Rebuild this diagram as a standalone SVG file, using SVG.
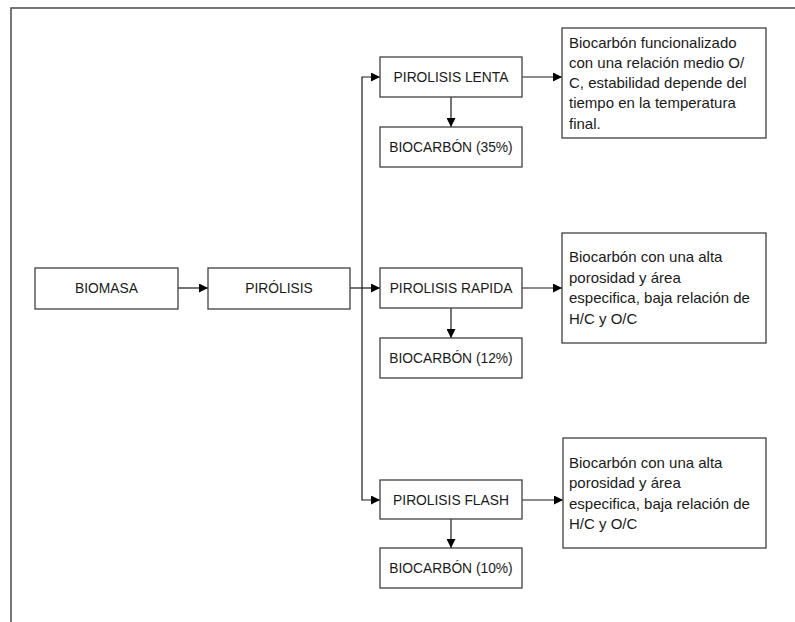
<svg xmlns="http://www.w3.org/2000/svg" width="795" height="622" viewBox="0 0 795 622">
<defs>
<marker id="ah" viewBox="0 0 10 10" refX="10" refY="5" markerWidth="9" markerHeight="9" markerUnits="userSpaceOnUse" orient="auto"><path d="M0,0 L10,5 L0,10 z" fill="#000"/></marker>
<style>
.box{fill:#fff;stroke:#404040;stroke-width:1.3}
.t{font-family:"Liberation Sans",Arial,sans-serif;font-size:13.8px;fill:#1a1a1a}
.d{font-size:15px}
.c{text-anchor:middle}
.ln{fill:none;stroke:#1a1a1a;stroke-width:1.2}
</style>
</defs>
<rect x="0" y="0" width="795" height="622" fill="#fff"/>
<rect x="11" y="8" width="800" height="640" fill="none" stroke="#555" stroke-width="1.6"/>
<g id="connectors">
<line class="ln" x1="178" y1="288" x2="208" y2="288" marker-end="url(#ah)"/>
<line class="ln" x1="350" y1="288" x2="380" y2="288" marker-end="url(#ah)"/>
<polyline class="ln" points="362,288 362,77 380,77" marker-end="url(#ah)"/>
<polyline class="ln" points="362,288 362,500 380,500" marker-end="url(#ah)"/>
<line class="ln" x1="451" y1="97" x2="451" y2="127" marker-end="url(#ah)"/>
<line class="ln" x1="451" y1="308" x2="451" y2="338" marker-end="url(#ah)"/>
<line class="ln" x1="451" y1="519" x2="451" y2="548" marker-end="url(#ah)"/>
<line class="ln" x1="522" y1="77" x2="562" y2="77" marker-end="url(#ah)"/>
<line class="ln" x1="522" y1="288" x2="562" y2="288" marker-end="url(#ah)"/>
<line class="ln" x1="522" y1="500" x2="563" y2="500" marker-end="url(#ah)"/>
</g>
<g id="biomasa"><rect class="box" x="35" y="268" width="143" height="41"/><text class="t c" x="106.5" y="293">BIOMASA</text></g>
<g id="pirolisis"><rect class="box" x="208" y="268" width="142" height="41"/><text class="t c" x="279" y="293">PIRÓLISIS</text></g>
<g id="lenta"><rect class="box" x="380" y="57" width="142" height="40"/><text class="t c" x="451" y="82">PIROLISIS LENTA</text></g>
<g id="bio35"><rect class="box" x="380" y="127" width="142" height="40"/><text class="t c" x="451" y="152">BIOCARBÓN (35%)</text></g>
<g id="rapida"><rect class="box" x="380" y="268" width="142" height="40"/><text class="t c" x="451" y="293">PIROLISIS RAPIDA</text></g>
<g id="bio12"><rect class="box" x="380" y="338" width="142" height="40"/><text class="t c" x="451" y="363">BIOCARBÓN (12%)</text></g>
<g id="flash"><rect class="box" x="380" y="480" width="142" height="39"/><text class="t c" x="451" y="505">PIROLISIS FLASH</text></g>
<g id="bio10"><rect class="box" x="380" y="548" width="142" height="40"/><text class="t c" x="451" y="573">BIOCARBÓN (10%)</text></g>
<g id="desc1"><rect class="box" x="562" y="28" width="204" height="110"/>
<text class="t d" x="569" y="48">Biocarbón funcionalizado</text>
<text class="t d" x="569" y="68">con una relación medio O/</text>
<text class="t d" x="569" y="88">C, estabilidad depende del</text>
<text class="t d" x="569" y="108">tiempo en la temperatura</text>
<text class="t d" x="569" y="129">final.</text></g>
<g id="desc2"><rect class="box" x="562" y="233" width="204" height="110"/>
<text class="t d" x="569" y="262">Biocarbón con una alta</text>
<text class="t d" x="569" y="283">porosidad y área</text>
<text class="t d" x="569" y="303">especifica, baja relación de</text>
<text class="t d" x="569" y="324">H/C y O/C</text></g>
<g id="desc3"><rect class="box" x="563" y="438" width="203" height="110"/>
<text class="t d" x="569" y="468">Biocarbón con una alta</text>
<text class="t d" x="569" y="488">porosidad y área</text>
<text class="t d" x="569" y="509">especifica, baja relación de</text>
<text class="t d" x="569" y="529">H/C y O/C</text></g>
</svg>
